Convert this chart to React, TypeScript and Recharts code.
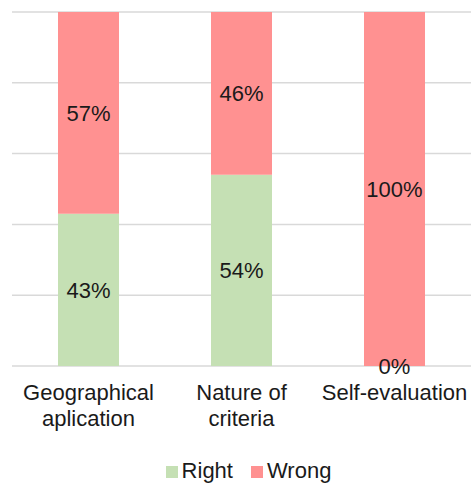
import { BarChart, Bar, XAxis, YAxis, CartesianGrid, Legend, LabelList } from 'recharts';

const categories = ['Geographical aplication', 'Nature of criteria', 'Self-evaluation'];
const tickLines = [['Geographical', 'aplication'], ['Nature of', 'criteria'], ['Self-evaluation']];
const rightValues = [43, 54, 0];
const wrongValues = [57, 46, 100];
const yTicks = [0, 20, 40, 60, 80, 100];

const GREEN = '#c5e0b4';
const RED = '#ff9191';
const TEXT = '#1a1a1a';
const FONT = '"Liberation Sans", Arial, sans-serif';
const FONT_SIZE = 22;

const data = categories.map((name, i) => ({
  name,
  right: rightValues[i],
  wrong: wrongValues[i],
}));

// two-line category labels under each bar
const CategoryTick = ({ x, y, payload }: any) => {
  const idx = categories.indexOf(payload.value);
  const lines = tickLines[idx] ?? [payload.value];
  return (
    <text x={x} y={y} textAnchor="middle" fill={TEXT} fontSize={FONT_SIZE} fontFamily={FONT}>
      {lines.map((line, i) => (
        <tspan key={line} x={x} dy={i === 0 ? 34 : 26}>
          {line}
        </tspan>
      ))}
    </text>
  );
};

// an empty "right" segment has no height, so its label is drawn at the foot of the stack
const ZeroRightLabel = ({ x, y, width, height, index }: any) => {
  if (rightValues[index] !== 0) return null;
  return (
    <text
      x={x + width / 2}
      y={y + height}
      dy="0.35em"
      textAnchor="middle"
      fill={TEXT}
      fontSize={FONT_SIZE}
      fontFamily={FONT}
    >
      {`${rightValues[index]}%`}
    </text>
  );
};

const LegendContent = () => {
  const items = [
    { label: 'Right', color: GREEN },
    { label: 'Wrong', color: RED },
  ];
  return (
    <div
      style={{
        display: 'flex',
        justifyContent: 'center',
        height: 30,
        lineHeight: '30px',
        fontFamily: FONT,
        fontSize: FONT_SIZE,
        color: TEXT,
        paddingLeft: 14,
        position: 'relative',
        top: 3,
      }}
    >
      {items.map((it, i) => (
        <div key={it.label} style={{ display: 'flex', alignItems: 'center', marginLeft: i === 0 ? 0 : 18 }}>
          <span
            style={{
              display: 'inline-block',
              width: 12,
              height: 12,
              background: it.color,
              marginRight: 4,
              marginTop: 2,
            }}
          />
          <span>{it.label}</span>
        </div>
      ))}
    </div>
  );
};

export default function App() {
  return (
    <div style={{ position: 'absolute', left: 0, top: 0, width: 471, height: 483, background: '#fff' }}>
      <BarChart
        width={471}
        height={483}
        data={data}
        margin={{ top: 12, right: 0, left: 12, bottom: 0 }}
      >
        <CartesianGrid vertical={false} stroke="#d9d9d9" strokeWidth={1.5} />
        <XAxis
          dataKey="name"
          axisLine={false}
          tickLine={false}
          tickSize={0}
          tickMargin={0}
          height={87}
          interval={0}
          tick={<CategoryTick />}
        />
        <YAxis hide domain={[0, 100]} ticks={yTicks} />
        <Legend verticalAlign="bottom" content={<LegendContent />} />
        <Bar dataKey="right" stackId="a" fill={GREEN} barSize={61} isAnimationActive={false}>
          <LabelList
            dataKey="right"
            position="center"
            formatter={(v: any) => `${v}%`}
            fill={TEXT}
            fontSize={FONT_SIZE}
            fontFamily={FONT}
          />
        </Bar>
        <Bar dataKey="wrong" stackId="a" fill={RED} barSize={61} isAnimationActive={false}>
          <LabelList
            dataKey="wrong"
            position="center"
            formatter={(v: any) => `${v}%`}
            fill={TEXT}
            fontSize={FONT_SIZE}
            fontFamily={FONT}
          />
          <LabelList dataKey="right" content={<ZeroRightLabel />} />
        </Bar>
      </BarChart>
    </div>
  );
}
